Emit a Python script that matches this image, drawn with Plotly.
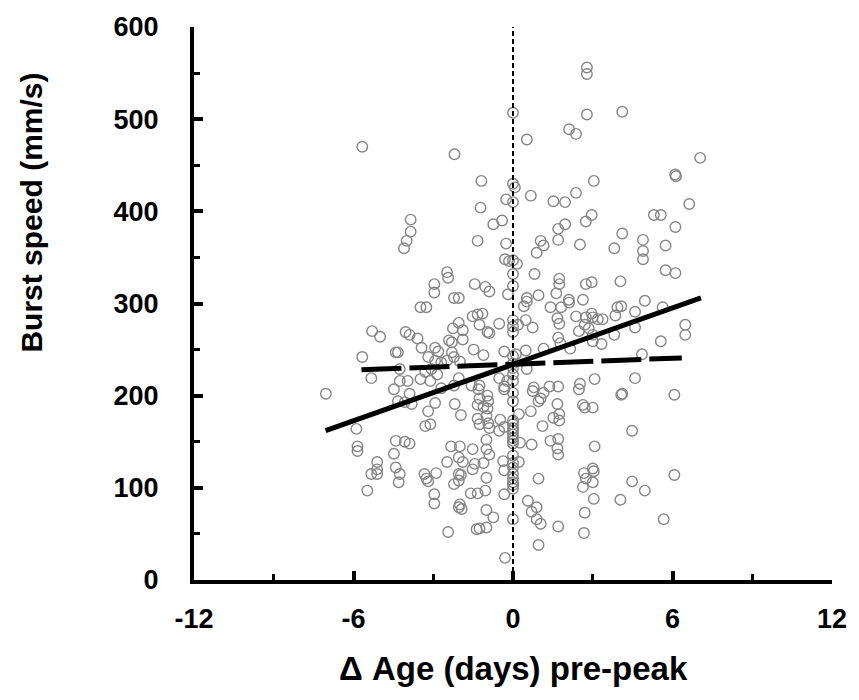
import plotly.graph_objects as go

# Scatter data: Δ age (days) pre-peak vs burst speed (mm/s)
age_days = [
    # upper left
    -5.67, -2.2, -1.19, -1.22, -0.74, -3.85, -3.85, -4.0, -4.1, -1.33, -2.48, -2.44, -2.96, -2.96, -1.44, -1.04, -0.89, -2.22, -2.04,
    # upper right
    0, 2.78, 2.78, 2.78, 4.11, 2.11, 2.37, 0.52, 7.04, 6.1, 6.13, 0, 0.07, 0, -0.26, 0.67, 1.52, 1.96, 2.37, 3.04,
    6.63, 5.3, 5.56, 6.11, 4.89, 4.89, 4.89, 5.74, 5.74, 6.11, 4.11, 3.81, 2.96, 2.74, 1.96, 1.7, 1.7, 2.52, 1.04,
    1.15, 0.89, 0.81, 1.74, 1.74, 1.63, 0.96, 0.52, 2.74, 2.96, 4.04, 0, 0, -0.19, 0, 0.15, -0.26, -0.3, -0.15,
    -0.41, 2.1, 2.63, 4.96,
    # middle left
    -3.48, -3.26, -1.52, -1.33, -1.15, -1.26, -0.52, -2.04, -2.26, -1.89, -0.96, -5.3, -5.0, -4.04, -3.89, -3.59,
    -2.41, -2.3, -1.89, -2.93, -2.81, -3.44, -1.48, -1.11, -0.33, -4.41, -4.33, -5.67, -3.19, -2.3, -2.22, -2.93,
    -2.7, -2.48, -2.0, -4.26, -3.3, -3.07, -2.85, -5.33, -4.26, -3.96, -3.48, -2.04, -3.11, -4.48, -3.89, -2.7,
    -2.22, -1.56, -1.26, -1.3, -0.52, -0.22, -0.33, -4.33, -4.07, -3.81, -2.93, -2.19, -1.26, -0.96, -0.93, -1.33,
    -1.11, -3.19, -1.96, -0.96, -1.0, -1.33, -1.26, -0.93, -0.89, -0.48, -0.33, -3.3, -3.11, -5.89,
    # lower left
    -7.04, -5.85, -5.85, -5.11, -5.33, -5.11, -5.11, -5.48, -4.41, -4.07, -3.89, -4.48, -4.41, -4.26, -4.3, -3.33,
    -3.26, -3.19, -2.89, -2.96, -2.96, -2.33, -2.0, -1.52, -2.48, -2.04, -1.89, -2.04, -1.96, -2.04, -2.22, -1.44,
    -1.11, -1.52, -1.0, -1.59, -1.33, -1.04, -2.04, -1.93, -2.0, -2.44, -1.37, -1.26, -1.0, -0.74, -1.0,
    -1.0, -1.0, -0.89, -0.37, -0.33, -0.33, -0.52, -0.3, -0.89, -0.33,
    # on the peak day
    0, 0, 0, 0, 0, 0, 0, 0, 0, 0, 0, 0, 0, 0, 0, 0, 0, 0, 0, 0, 0, 0, 0, 0, 0, 0, 0,
    # middle right
    0.41, 0.52, 1.41, 1.81, 2.11, 2.37, 2.74, 2.96, 3.0, 3.19, 3.37, 3.93, 4.07, 3.85, 4.59, 5.63, 1.67, 1.74,
    0.74, 0.48, 2.48, 2.85, 2.7, 1.7, 1.78, 3.0, 3.0, 3.33, 3.81, 4.59, 5.56, 6.48, 6.48, 2.15, 1.15, 0.48,
    0.11, 4.85, 0.52, 3.07, 4.59, 0.78, 0.74, 1.37, 1.7, 1.15, 1.04, 0.96, 2.52, 2.48, 4.07, 4.11, 6.07, 1.67,
    2.63, 2.7, 3.0, 0.67, 0.22, 1.74, 1.52, 1.74, 1.11, 4.48, 0.19,
    # lower right
    0.26, 0.7, 1.41, 1.7, 1.67, 1.7, 3.07, 0.22, 0.96, 2.67, 3.0, 3.04, 2.74, 3.0, 2.63, 4.48, 4.96, 6.07,
    0.56, 0.89, 0.7, 0.89, 1.04, 3.04, 2.7, 2.67, 4.04, 5.67, 1.7, 0.96,
]

burst_speed = [
    # upper left
    470, 462, 433, 404, 386, 391, 378, 368, 360, 368, 334, 328, 321, 312, 321, 318, 313, 306, 306,
    # upper right
    507, 556, 549, 505, 508, 489, 484, 478, 458, 440, 438, 430, 426, 410, 413, 417, 411, 410, 420, 433,
    408, 396, 396, 383, 369, 357, 348, 363, 336, 333, 376, 360, 396, 389, 386, 381, 369, 364, 368,
    363, 355, 332, 327, 321, 311, 309, 306, 321, 323, 324, 332, 319, 310, 347, 343, 365, 348, 346,
    390, 304, 304, 303,
    # middle left
    296, 296, 286, 288, 289, 277, 278, 279, 273, 271, 269, 270, 264, 269, 266, 262,
    260, 258, 261, 252, 248, 252, 250, 244, 248, 247, 247, 242, 242, 247, 242, 238,
    236, 238, 237, 229, 226, 229, 223, 219, 216, 216, 218, 219, 216, 207, 202, 208,
    211, 211, 211, 207, 219, 216, 207, 194, 193, 191, 192, 191, 197, 200, 194, 190,
    188, 183, 179, 186, 178, 175, 169, 170, 165, 174, 166, 167, 169, 164,
    # lower left
    202, 145, 140, 128, 115, 115, 120, 97, 151, 150, 148, 137, 122, 115, 106, 115,
    110, 107, 116, 93, 83, 145, 145, 142, 128, 133, 128, 115, 114, 108, 104, 126,
    127, 120, 111, 94, 94, 97, 79, 77, 82, 52, 55, 56, 57, 68, 76,
    152, 142, 136, 129, 119, 93, 162, 24, 268, 210,
    # on the peak day
    282, 275, 269, 243, 235, 230, 223, 216, 203, 194, 173, 169, 165, 162, 158, 154, 151, 148, 135, 127, 122,
    115, 110, 106, 103, 99, 66,
    # middle right
    297, 302, 296, 296, 301, 286, 285, 289, 285, 283, 283, 296, 297, 287, 291, 296, 284, 278,
    274, 282, 270, 273, 277, 263, 257, 266, 259, 256, 266, 274, 259, 277, 266, 251, 251, 249,
    245, 245, 229, 218, 219, 209, 205, 210, 210, 203, 197, 194, 213, 207, 201, 202, 201, 191,
    190, 187, 187, 183, 180, 180, 176, 173, 167, 162, 277,
    # lower right
    149, 147, 151, 153, 143, 136, 145, 128, 110, 116, 121, 118, 110, 106, 101, 107, 97, 114,
    86, 79, 74, 66, 61, 88, 73, 51, 87, 66, 58, 38,
]

# Fitted lines (end points)
fit_solid_x = [-7.05, 7.07]
fit_solid_y = [162, 306]
fit_dashed_x = [-5.7, 6.35]
fit_dashed_y = [228, 241]
peak_x = [0, 0]
peak_y = [0, 600]

x_ticks = [-12, -6, 0, 6, 12]
x_minor = [-9, -3, 3, 9]
y_ticks = [0, 100, 200, 300, 400, 500, 600]
y_minor = [50, 150, 250, 350, 450, 550]

FONT = "Liberation Sans"

fig = go.Figure()
fig.add_trace(go.Scatter(
    x=age_days, y=burst_speed, mode="markers",
    marker=dict(symbol="circle-open", size=10.5, color="#858585", line=dict(width=1.4, color="#858585")),
    showlegend=False, hoverinfo="skip"))
fig.add_trace(go.Scatter(
    x=peak_x, y=peak_y, mode="lines",
    line=dict(color="black", width=2, dash="5px,3px"), showlegend=False))
fig.add_trace(go.Scatter(
    x=fit_solid_x, y=fit_solid_y, mode="lines",
    line=dict(color="black", width=5), showlegend=False))
fig.add_trace(go.Scatter(
    x=fit_dashed_x, y=fit_dashed_y, mode="lines",
    line=dict(color="black", width=5, dash="40px,8px"), showlegend=False))

axis_common = dict(
    showgrid=False, zeroline=False, showline=True, linewidth=4, linecolor="black",
    ticks="inside", ticklen=9, tickwidth=3.5, tickcolor="black",
    tickfont=dict(family=FONT, size=27, color="black", weight="bold"),
)

fig.update_layout(
    width=859, height=700,
    margin=dict(l=194, r=18, t=24, b=120),
    plot_bgcolor="white", paper_bgcolor="white",
    xaxis=dict(range=[-12, 12], tickvals=x_ticks, ticktext=[str(v) for v in x_ticks],
               minor=dict(tickvals=x_minor, ticks="inside", ticklen=6, tickwidth=3, tickcolor="black"),
               ticklabelstandoff=12, **axis_common),
    yaxis=dict(range=[0, 600], tickvals=y_ticks, ticktext=[str(v) for v in y_ticks],
               minor=dict(tickvals=y_minor, ticks="inside", ticklen=6, tickwidth=3, tickcolor="black"),
               ticklabelstandoff=26, **axis_common),
    annotations=[
        dict(text="Burst speed (mm/s)", xref="paper", yref="paper", x=-0.255, y=0.665,
             xanchor="center", yanchor="middle", textangle=-90, showarrow=False,
             font=dict(family=FONT, size=30, color="black", weight="bold")),
        dict(text="Δ Age (days) pre-peak", xref="paper", yref="paper", x=0.5, y=-0.16,
             xanchor="center", yanchor="middle", showarrow=False,
             font=dict(family=FONT, size=33, color="black", weight="bold")),
    ],
)

fig.write_html("out.html")
